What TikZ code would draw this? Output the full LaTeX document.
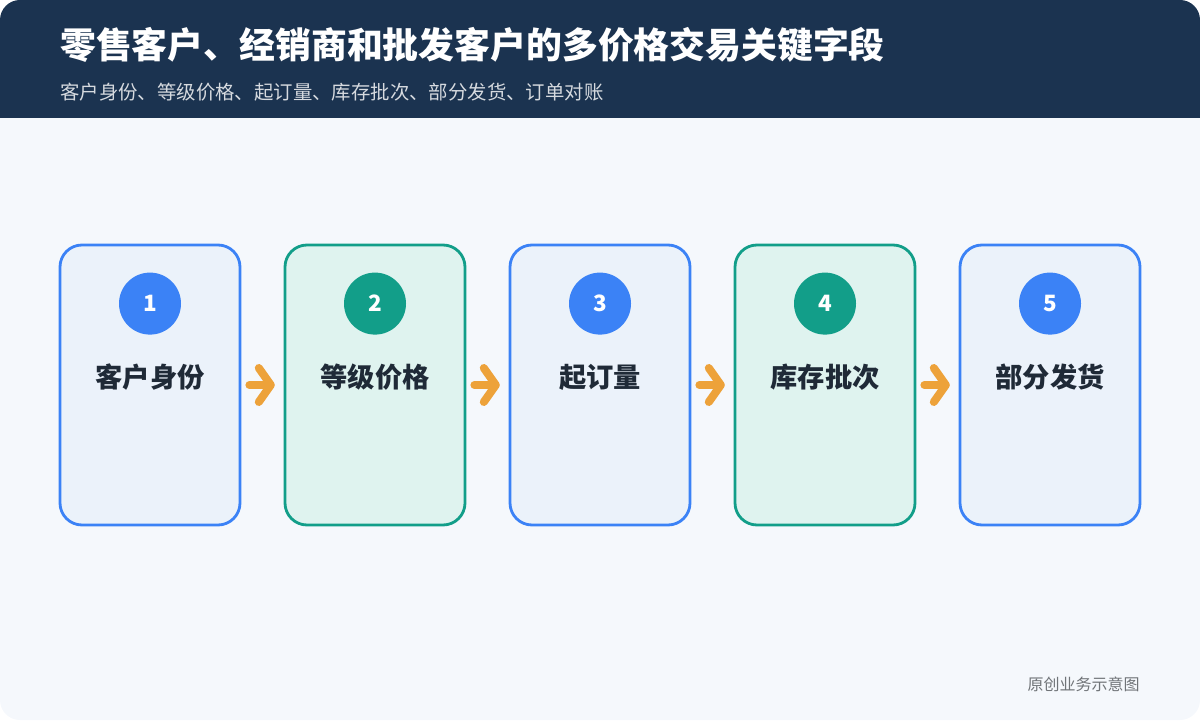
\documentclass[tikz,border=0pt]{standalone}
\usepackage{fontspec}
\setmainfont{Noto Sans CJK SC}
\usetikzlibrary{arrows.meta, calc, positioning}
\definecolor{navy}{HTML}{1B3350}
\definecolor{bgpage}{HTML}{F5F8FC}
\definecolor{bluedge}{HTML}{3B82F6}
\definecolor{bluefill}{HTML}{EBF2FA}
\definecolor{greenedge}{HTML}{129E89}
\definecolor{greenfill}{HTML}{DFF3EF}
\definecolor{inkdark}{HTML}{1F2A37}
\definecolor{orangearr}{HTML}{EDA23A}
\tikzstyle{stepbox} = [rectangle, rounded corners=0.55cm, minimum width=4.5cm, minimum height=7cm, line width=0.07cm, inner sep=0pt]
\tikzstyle{bluestep} = [stepbox, draw=bluedge, fill=bluefill]
\tikzstyle{greenstep} = [stepbox, draw=greenedge, fill=greenfill]
\tikzstyle{badge} = [circle, minimum size=1.55cm, inner sep=0pt, text=white, font=\fontsize{16}{16}\selectfont\bfseries]
\tikzstyle{steptext} = [text=inkdark, font=\fontsize{19.4}{19.4}\selectfont\bfseries]
\tikzstyle{flow} = [draw=orangearr, line width=0.2cm, line cap=round, -{Straight Barb[length=0.3cm, width=0.85cm, round]}]

\begin{document}
\begin{tikzpicture}[node distance=1.055cm]
  % page and header
  \fill[bgpage, rounded corners=0.5cm] (0,0) rectangle (30,18);
  \fill[navy, rounded corners=0.5cm] (0,15.05) rectangle (30,18);
  \fill[navy] (0,15.05) rectangle (30,16);
  \useasboundingbox (0,0) rectangle (30,18);
  \node (title) [anchor=west, inner sep=0pt, text=white, font=\fontsize{25.5}{25.5}\selectfont\bfseries] at (1.5,16.88) {零售客户、经销商和批发客户的多价格交易关键字段};
  \node (subtitle) [anchor=west, inner sep=0pt, text=white!82!navy, font=\fontsize{13.8}{13.8}\selectfont] at (1.5,15.7) {客户身份、等级价格、起订量、库存批次、部分发货、订单对账};

  % steps
  \node (s1) [bluestep] at (3.75,8.375) {};
  \node (s2) [greenstep, right=of s1] {};
  \node (s3) [bluestep, right=of s2] {};
  \node (s4) [greenstep, right=of s3] {};
  \node (s5) [bluestep, right=of s4] {};

  \node (n1) [badge, fill=bluedge] at ($(s1.north)+(0,-1.5)$) {1};
  \node (n2) [badge, fill=greenedge] at ($(s2.north)+(0,-1.5)$) {2};
  \node (n3) [badge, fill=bluedge] at ($(s3.north)+(0,-1.5)$) {3};
  \node (n4) [badge, fill=greenedge] at ($(s4.north)+(0,-1.5)$) {4};
  \node (n5) [badge, fill=bluedge] at ($(s5.north)+(0,-1.5)$) {5};

  \node (t1) [steptext] at ($(s1.center)+(0,0.2)$) {客户身份};
  \node (t2) [steptext] at ($(s2.center)+(0,0.2)$) {等级价格};
  \node (t3) [steptext] at ($(s3.center)+(0,0.2)$) {起订量};
  \node (t4) [steptext] at ($(s4.center)+(0,0.2)$) {库存批次};
  \node (t5) [steptext] at ($(s5.center)+(0,0.2)$) {部分发货};

  \path [flow] ([xshift=0.2cm]s1.east) -- ([xshift=-0.22cm]s2.west);
  \path [flow] ([xshift=0.2cm]s2.east) -- ([xshift=-0.22cm]s3.west);
  \path [flow] ([xshift=0.2cm]s3.east) -- ([xshift=-0.22cm]s4.west);
  \path [flow] ([xshift=0.2cm]s4.east) -- ([xshift=-0.22cm]s5.west);

  \node (note) [anchor=east, inner sep=0pt, text=gray!85!navy, font=\fontsize{11.4}{11.4}\selectfont] at (28.5,0.88) {原创业务示意图};
\end{tikzpicture}
\end{document}
